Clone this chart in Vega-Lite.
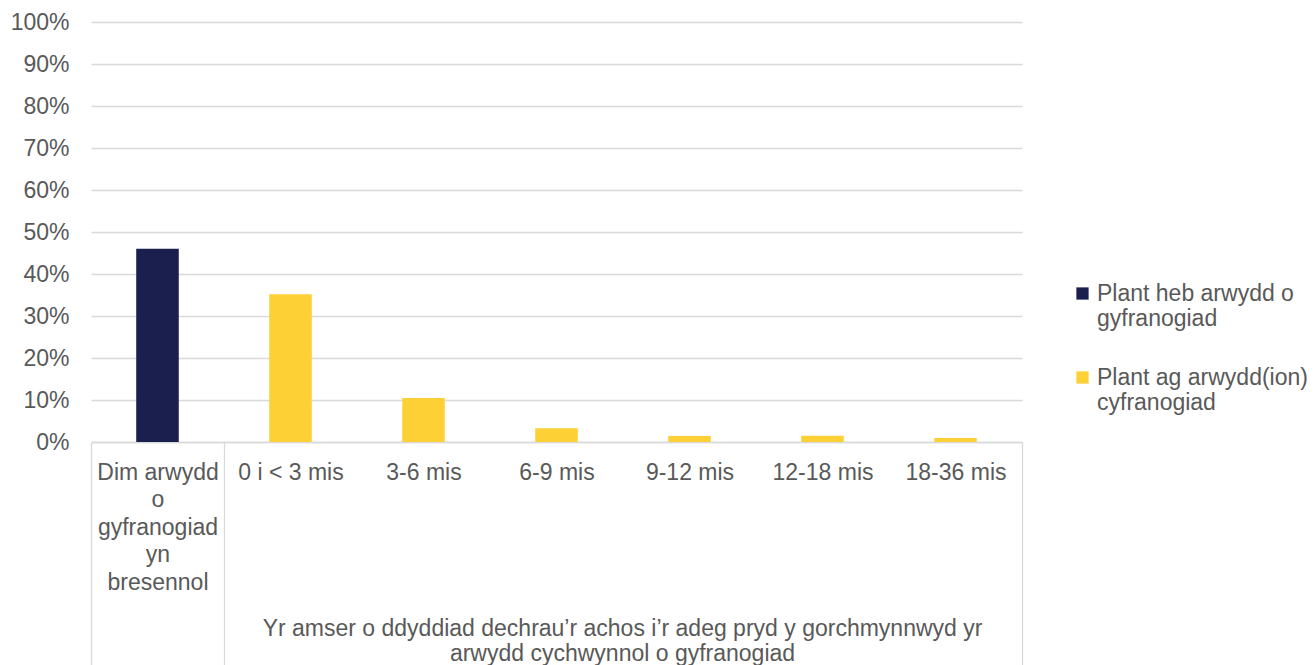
{
  "$schema": "https://vega.github.io/schema/vega-lite/v6.json",
  "width": 931,
  "height": 420,
  "autosize": {"type": "none"},
  "padding": {"left": 91, "top": 22, "right": 292, "bottom": 223},
  "background": "white",
  "config": {
    "font": "Liberation Sans",
    "view": {"stroke": null},
    "axis": {"labelFont": "Liberation Sans", "titleFont": "Liberation Sans", "labelColor": "#595959", "titleColor": "#595959"},
    "legend": {"labelFont": "Liberation Sans"}
  },
  "data": {
    "values": [
      {"cat": "Dim arwydd o gyfranogiad yn bresennol", "series": "Plant heb arwydd o gyfranogiad", "value": 0.46},
      {"cat": "0 i < 3 mis", "series": "Plant ag arwydd(ion) cyfranogiad", "value": 0.352},
      {"cat": "3-6 mis", "series": "Plant ag arwydd(ion) cyfranogiad", "value": 0.105},
      {"cat": "6-9 mis", "series": "Plant ag arwydd(ion) cyfranogiad", "value": 0.033},
      {"cat": "9-12 mis", "series": "Plant ag arwydd(ion) cyfranogiad", "value": 0.014},
      {"cat": "12-18 mis", "series": "Plant ag arwydd(ion) cyfranogiad", "value": 0.015},
      {"cat": "18-36 mis", "series": "Plant ag arwydd(ion) cyfranogiad", "value": 0.0095}
    ]
  },
  "mark": {"type": "bar", "width": {"band": 0.32}},
  "encoding": {
    "x": {
      "field": "cat",
      "type": "nominal",
      "sort": null,
      "scale": {"paddingInner": 0, "paddingOuter": 0},
      "axis": {
        "orient": "bottom",
        "labelAngle": 0,
        "labelFontSize": 23,
        "labelLineHeight": 27.5,
        "labelBaseline": "top",
        "labelAlign": "center",
        "labelOverlap": false,
        "labelLimit": 300,
        "labelPadding": -204,
        "labelExpr": "datum.value == 'Dim arwydd o gyfranogiad yn bresennol' ? ['Dim arwydd', 'o', 'gyfranogiad', 'yn', 'bresennol'] : datum.value",
        "tickBand": "extent",
        "tickSize": 223,
        "tickWidth": 1.3,
        "tickColor": {"condition": {"test": "!!datum.extra || datum.value == 'Dim arwydd o gyfranogiad yn bresennol' || datum.value == '18-36 mis'", "value": "#d9d9d9"}, "value": "rgba(0,0,0,0)"},
        "domainColor": "#d9d9d9",
        "domainWidth": 1.5,
        "grid": false,
        "title": ["Yr amser o ddyddiad dechrau’r achos i’r adeg pryd y gorchmynnwyd yr", "arwydd cychwynnol o gyfranogiad"],
        "titleFontSize": 23,
        "titleFontWeight": "normal",
        "titleLineHeight": 25,
        "titleX": 531,
        "titleY": 193,
        "titleAlign": "center",
        "titleAnchor": "middle",
        "titleBaseline": "alphabetic"
      }
    },
    "y": {
      "field": "value",
      "type": "quantitative",
      "scale": {"domain": [0, 1], "nice": false},
      "axis": {
        "values": [0, 0.1, 0.2, 0.3, 0.4, 0.5, 0.6, 0.7, 0.8, 0.9, 1],
        "format": ".0%",
        "labelFontSize": 23,
        "labelPadding": 22,
        "ticks": false,
        "domain": false,
        "grid": true,
        "gridColor": "#d9d9d9",
        "gridWidth": 1.3,
        "title": null
      }
    },
    "color": {
      "field": "series",
      "type": "nominal",
      "scale": {
        "domain": ["Plant heb arwydd o gyfranogiad", "Plant ag arwydd(ion) cyfranogiad"],
        "range": ["#1b1f4e", "#fdd036"]
      },
      "legend": {
        "orient": "none",
        "legendX": 980,
        "legendY": 260,
        "title": null,
        "padding": 0,
        "symbolType": "square",
        "symbolSize": 150,
        "symbolStrokeWidth": 0,
        "labelFontSize": 23,
        "labelColor": "#595959",
        "labelLineHeight": 27,
        "labelOffset": 3,
        "labelLimit": 300,
        "rowPadding": 35,
        "labelExpr": "datum.label == 'Plant heb arwydd o gyfranogiad' ? ['Plant heb arwydd o', 'gyfranogiad'] : ['Plant ag arwydd(ion)', 'cyfranogiad']"
      }
    }
  }
}
